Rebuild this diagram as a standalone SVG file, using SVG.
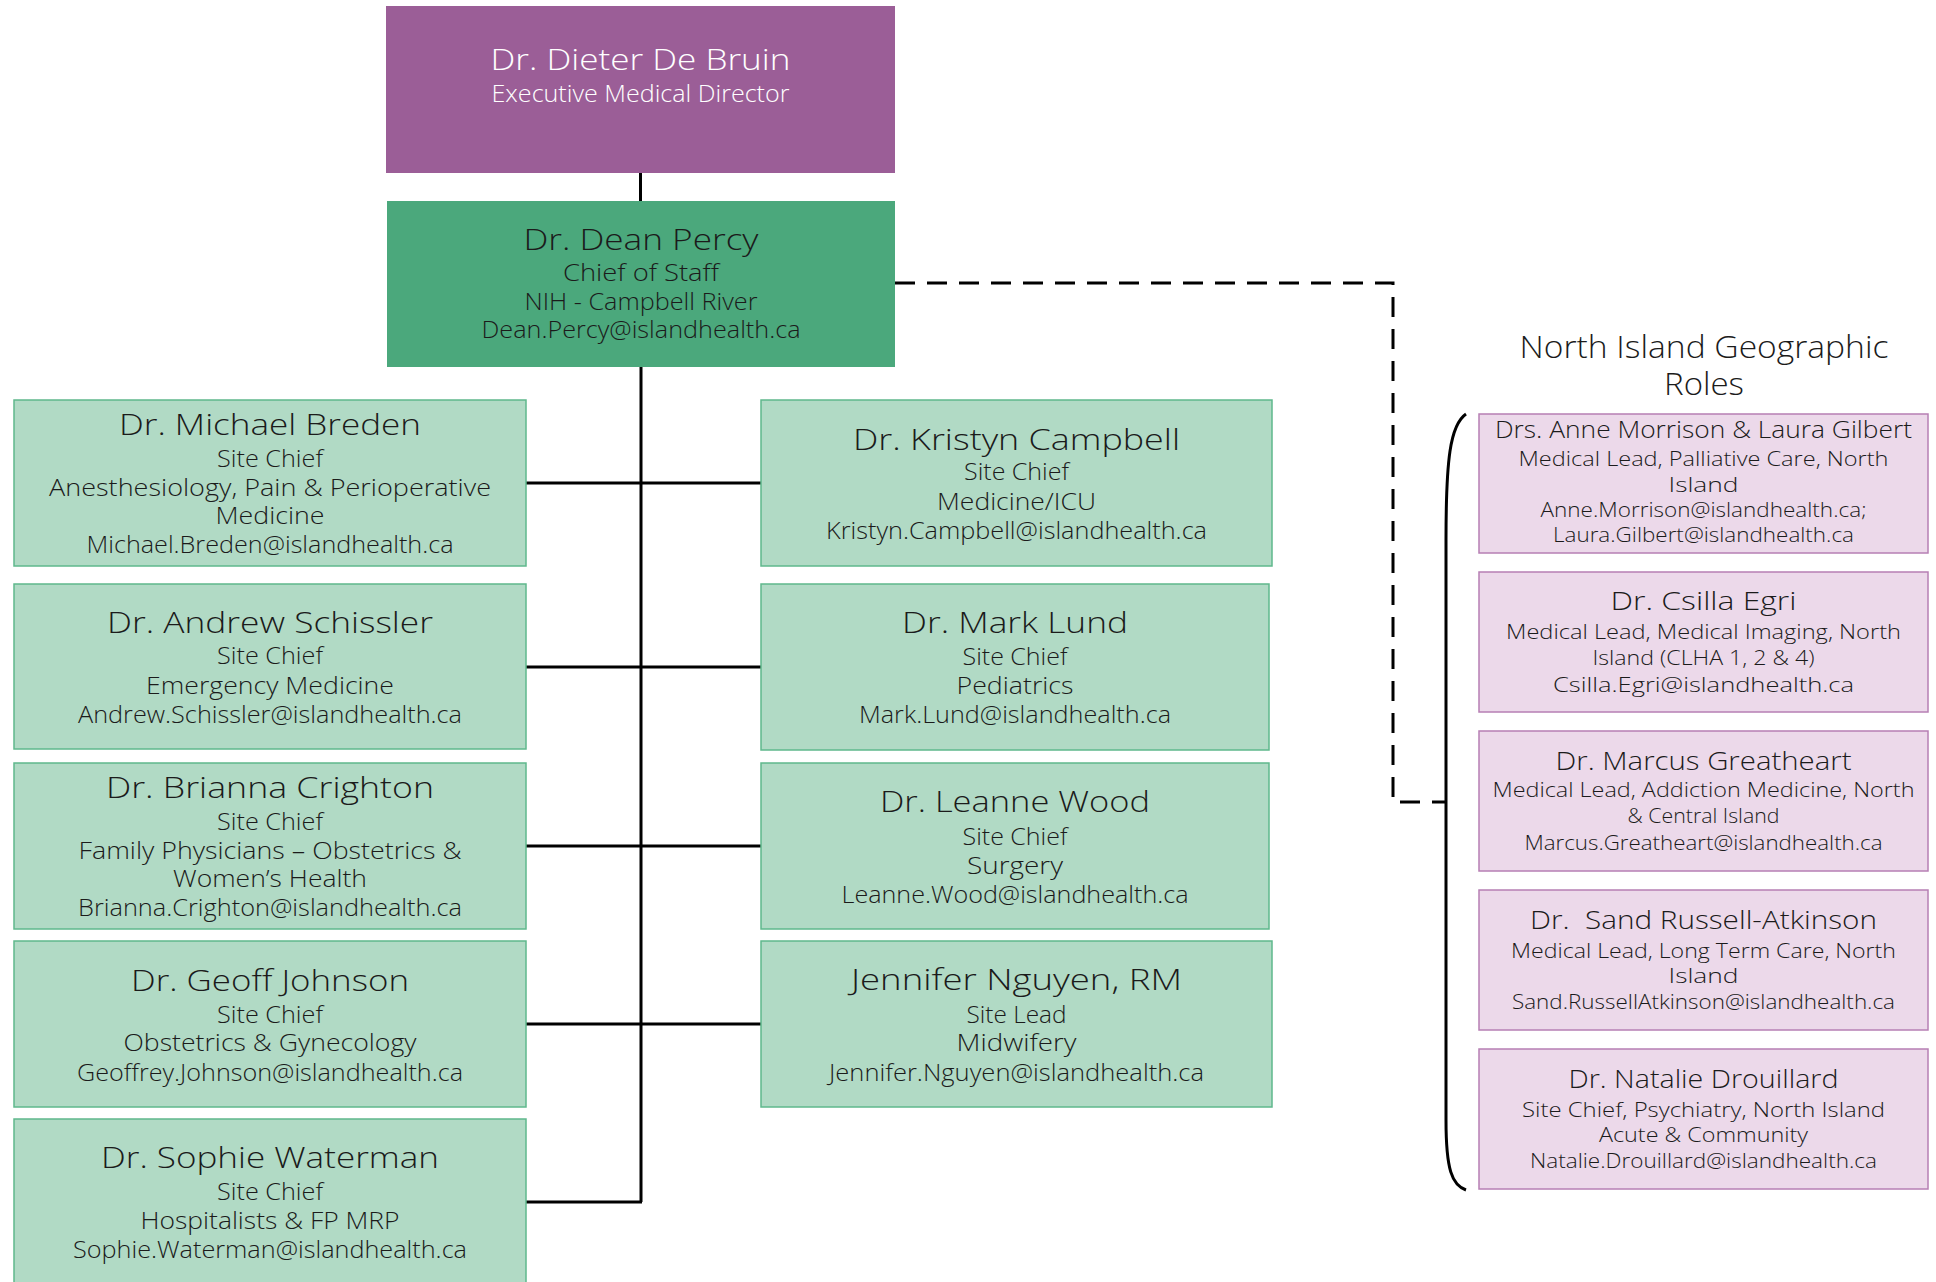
<svg xmlns="http://www.w3.org/2000/svg" width="1936" height="1282" viewBox="0 0 1936 1282">
<style>
text{font-family:"Open Sans","Liberation Sans",sans-serif;text-anchor:middle;fill:#1b1b1b;font-weight:300}
.nm{font-size:30px}
.dt{font-size:23px}
.pn{font-size:25px}
.pd{font-size:20px}
.w{fill:#ffffff}
.lg{fill:#b1dac5;stroke:#5fb88c;stroke-width:1.5}
.lp{fill:#ecd9ea;stroke:#b77fb4;stroke-width:1.5}
.ln{fill:none;stroke:#000;stroke-width:3}
.dash{fill:none;stroke:#000;stroke-width:3;stroke-dasharray:20 12}
</style>
<rect width="1936" height="1282" fill="#ffffff"/>
<g id="connectors">
<path class="ln" d="M640.5,173V201"/>
<path class="ln" d="M641,367V1202"/>
<path class="ln" d="M526,483H761M526,667H761M526,846H761M526,1024H761M526,1202H642"/>
<path class="dash" d="M895,283H1393V802H1446"/>
<path class="ln" d="M1466,414C1450,425 1446,460 1446,540L1446,1120C1446,1170 1452,1185 1466,1190"/>
</g>
<g id="n-debruin">
<rect x="386" y="6" width="509" height="167" fill="#9b5e97"/>
<text class="nm w" x="640.5" y="70" textLength="300" lengthAdjust="spacingAndGlyphs">Dr. Dieter De Bruin</text>
<text class="dt w" x="640.5" y="102" textLength="298" lengthAdjust="spacingAndGlyphs">Executive Medical Director</text>
</g>
<g id="n-percy">
<rect x="387" y="201" width="508" height="166" fill="#4ba87c"/>
<text class="nm" x="641" y="250" textLength="235" lengthAdjust="spacingAndGlyphs">Dr. Dean Percy</text>
<text class="dt" x="641" y="281" textLength="156" lengthAdjust="spacingAndGlyphs">Chief of Staff</text>
<text class="dt" x="641" y="310" textLength="233" lengthAdjust="spacingAndGlyphs">NIH - Campbell River</text>
<text class="dt" x="641" y="338" textLength="319" lengthAdjust="spacingAndGlyphs">Dean.Percy@islandhealth.ca</text>
</g>
<g id="n-breden">
<rect class="lg" x="14" y="400" width="512" height="166"/>
<text class="nm" x="270" y="435" textLength="302" lengthAdjust="spacingAndGlyphs">Dr. Michael Breden</text>
<text class="dt" x="270" y="467" textLength="106" lengthAdjust="spacingAndGlyphs">Site Chief</text>
<text class="dt" x="270" y="496" textLength="442" lengthAdjust="spacingAndGlyphs">Anesthesiology, Pain &amp; Perioperative</text>
<text class="dt" x="270" y="524" textLength="109" lengthAdjust="spacingAndGlyphs">Medicine</text>
<text class="dt" x="270" y="553" textLength="367" lengthAdjust="spacingAndGlyphs">Michael.Breden@islandhealth.ca</text>
</g>
<g id="n-schissler">
<rect class="lg" x="14" y="584" width="512" height="165"/>
<text class="nm" x="270" y="633" textLength="326" lengthAdjust="spacingAndGlyphs">Dr. Andrew Schissler</text>
<text class="dt" x="270" y="664" textLength="106" lengthAdjust="spacingAndGlyphs">Site Chief</text>
<text class="dt" x="270" y="694" textLength="248" lengthAdjust="spacingAndGlyphs">Emergency Medicine</text>
<text class="dt" x="270" y="723" textLength="384" lengthAdjust="spacingAndGlyphs">Andrew.Schissler@islandhealth.ca</text>
</g>
<g id="n-crighton">
<rect class="lg" x="14" y="763" width="512" height="166"/>
<text class="nm" x="270" y="798" textLength="328" lengthAdjust="spacingAndGlyphs">Dr. Brianna Crighton</text>
<text class="dt" x="270" y="830" textLength="106" lengthAdjust="spacingAndGlyphs">Site Chief</text>
<text class="dt" x="270" y="859" textLength="383" lengthAdjust="spacingAndGlyphs">Family Physicians – Obstetrics &amp;</text>
<text class="dt" x="270" y="887" textLength="194" lengthAdjust="spacingAndGlyphs">Women’s Health</text>
<text class="dt" x="270" y="916" textLength="384" lengthAdjust="spacingAndGlyphs">Brianna.Crighton@islandhealth.ca</text>
</g>
<g id="n-johnson">
<rect class="lg" x="14" y="941" width="512" height="166"/>
<text class="nm" x="270" y="991" textLength="278" lengthAdjust="spacingAndGlyphs">Dr. Geoff Johnson</text>
<text class="dt" x="270" y="1023" textLength="106" lengthAdjust="spacingAndGlyphs">Site Chief</text>
<text class="dt" x="270" y="1051" textLength="293" lengthAdjust="spacingAndGlyphs">Obstetrics &amp; Gynecology</text>
<text class="dt" x="270" y="1081" textLength="386" lengthAdjust="spacingAndGlyphs">Geoffrey.Johnson@islandhealth.ca</text>
</g>
<g id="n-waterman">
<rect class="lg" x="14" y="1119" width="512" height="175"/>
<text class="nm" x="270" y="1168" textLength="338" lengthAdjust="spacingAndGlyphs">Dr. Sophie Waterman</text>
<text class="dt" x="270" y="1200" textLength="106" lengthAdjust="spacingAndGlyphs">Site Chief</text>
<text class="dt" x="270" y="1229" textLength="259" lengthAdjust="spacingAndGlyphs">Hospitalists &amp; FP MRP</text>
<text class="dt" x="270" y="1258" textLength="394" lengthAdjust="spacingAndGlyphs">Sophie.Waterman@islandhealth.ca</text>
</g>
<g id="n-campbell">
<rect class="lg" x="761" y="400" width="511" height="166"/>
<text class="nm" x="1016.5" y="450" textLength="327" lengthAdjust="spacingAndGlyphs">Dr. Kristyn Campbell</text>
<text class="dt" x="1016.5" y="480" textLength="105" lengthAdjust="spacingAndGlyphs">Site Chief</text>
<text class="dt" x="1016.5" y="510" textLength="159" lengthAdjust="spacingAndGlyphs">Medicine/ICU</text>
<text class="dt" x="1016.5" y="539" textLength="381" lengthAdjust="spacingAndGlyphs">Kristyn.Campbell@islandhealth.ca</text>
</g>
<g id="n-lund">
<rect class="lg" x="761" y="584" width="508" height="166"/>
<text class="nm" x="1015" y="633" textLength="226" lengthAdjust="spacingAndGlyphs">Dr. Mark Lund</text>
<text class="dt" x="1015" y="665" textLength="105" lengthAdjust="spacingAndGlyphs">Site Chief</text>
<text class="dt" x="1015" y="694" textLength="117" lengthAdjust="spacingAndGlyphs">Pediatrics</text>
<text class="dt" x="1015" y="723" textLength="312" lengthAdjust="spacingAndGlyphs">Mark.Lund@islandhealth.ca</text>
</g>
<g id="n-wood">
<rect class="lg" x="761" y="763" width="508" height="166"/>
<text class="nm" x="1015" y="812" textLength="270" lengthAdjust="spacingAndGlyphs">Dr. Leanne Wood</text>
<text class="dt" x="1015" y="845" textLength="105" lengthAdjust="spacingAndGlyphs">Site Chief</text>
<text class="dt" x="1015" y="874" textLength="96" lengthAdjust="spacingAndGlyphs">Surgery</text>
<text class="dt" x="1015" y="903" textLength="347" lengthAdjust="spacingAndGlyphs">Leanne.Wood@islandhealth.ca</text>
</g>
<g id="n-nguyen">
<rect class="lg" x="761" y="941" width="511" height="166"/>
<text class="nm" x="1016.5" y="990" textLength="331" lengthAdjust="spacingAndGlyphs">Jennifer Nguyen, RM</text>
<text class="dt" x="1016.5" y="1023" textLength="100" lengthAdjust="spacingAndGlyphs">Site Lead</text>
<text class="dt" x="1016.5" y="1051" textLength="120" lengthAdjust="spacingAndGlyphs">Midwifery</text>
<text class="dt" x="1016.5" y="1081" textLength="375" lengthAdjust="spacingAndGlyphs">Jennifer.Nguyen@islandhealth.ca</text>
</g>
<g id="title">
<text style="font-size:31px" x="1704" y="358" textLength="369" lengthAdjust="spacingAndGlyphs">North Island Geographic</text>
<text style="font-size:31px" x="1704" y="395" textLength="80" lengthAdjust="spacingAndGlyphs">Roles</text>
</g>
<g id="n-morrison">
<rect class="lp" x="1479" y="414" width="449" height="139"/>
<text class="pn" style="font-size:24px" x="1703.5" y="438" textLength="417" lengthAdjust="spacingAndGlyphs">Drs. Anne Morrison &amp; Laura Gilbert</text>
<text class="pd" x="1703.5" y="466" textLength="370" lengthAdjust="spacingAndGlyphs">Medical Lead, Palliative Care, North</text>
<text class="pd" x="1703.5" y="492" textLength="70" lengthAdjust="spacingAndGlyphs">Island</text>
<text class="pd" x="1703.5" y="517" textLength="326" lengthAdjust="spacingAndGlyphs">Anne.Morrison@islandhealth.ca;</text>
<text class="pd" x="1703.5" y="542" textLength="301" lengthAdjust="spacingAndGlyphs">Laura.Gilbert@islandhealth.ca</text>
</g>
<g id="n-egri">
<rect class="lp" x="1479" y="572" width="449" height="140"/>
<text class="pn" x="1703.5" y="610" textLength="186" lengthAdjust="spacingAndGlyphs">Dr. Csilla Egri</text>
<text class="pd" x="1703.5" y="639" textLength="395" lengthAdjust="spacingAndGlyphs">Medical Lead, Medical Imaging, North</text>
<text class="pd" x="1703.5" y="665" textLength="222" lengthAdjust="spacingAndGlyphs">Island (CLHA 1, 2 &amp; 4)</text>
<text class="pd" x="1703.5" y="692" textLength="301" lengthAdjust="spacingAndGlyphs">Csilla.Egri@islandhealth.ca</text>
</g>
<g id="n-greatheart">
<rect class="lp" x="1479" y="731" width="449" height="140"/>
<text class="pn" x="1703.5" y="770" textLength="296" lengthAdjust="spacingAndGlyphs">Dr. Marcus Greatheart</text>
<text class="pd" x="1703.5" y="797" textLength="422" lengthAdjust="spacingAndGlyphs">Medical Lead, Addiction Medicine, North</text>
<text class="pd" x="1703.5" y="823" textLength="152" lengthAdjust="spacingAndGlyphs">&amp; Central Island</text>
<text class="pd" x="1703.5" y="850" textLength="358" lengthAdjust="spacingAndGlyphs">Marcus.Greatheart@islandhealth.ca</text>
</g>
<g id="n-russell">
<rect class="lp" x="1479" y="890" width="449" height="140"/>
<text class="pn" x="1703.5" y="929" xml:space="preserve" textLength="347" lengthAdjust="spacingAndGlyphs">Dr.  Sand Russell-Atkinson</text>
<text class="pd" x="1703.5" y="958" textLength="385" lengthAdjust="spacingAndGlyphs">Medical Lead, Long Term Care, North</text>
<text class="pd" x="1703.5" y="983" textLength="70" lengthAdjust="spacingAndGlyphs">Island</text>
<text class="pd" x="1703.5" y="1009" textLength="383" lengthAdjust="spacingAndGlyphs">Sand.RussellAtkinson@islandhealth.ca</text>
</g>
<g id="n-drouillard">
<rect class="lp" x="1479" y="1049" width="449" height="140"/>
<text class="pn" x="1703.5" y="1088" textLength="270" lengthAdjust="spacingAndGlyphs">Dr. Natalie Drouillard</text>
<text class="pd" x="1703.5" y="1117" textLength="363" lengthAdjust="spacingAndGlyphs">Site Chief, Psychiatry, North Island</text>
<text class="pd" x="1703.5" y="1142" textLength="209" lengthAdjust="spacingAndGlyphs">Acute &amp; Community</text>
<text class="pd" x="1703.5" y="1168" textLength="347" lengthAdjust="spacingAndGlyphs">Natalie.Drouillard@islandhealth.ca</text>
</g>
</svg>
